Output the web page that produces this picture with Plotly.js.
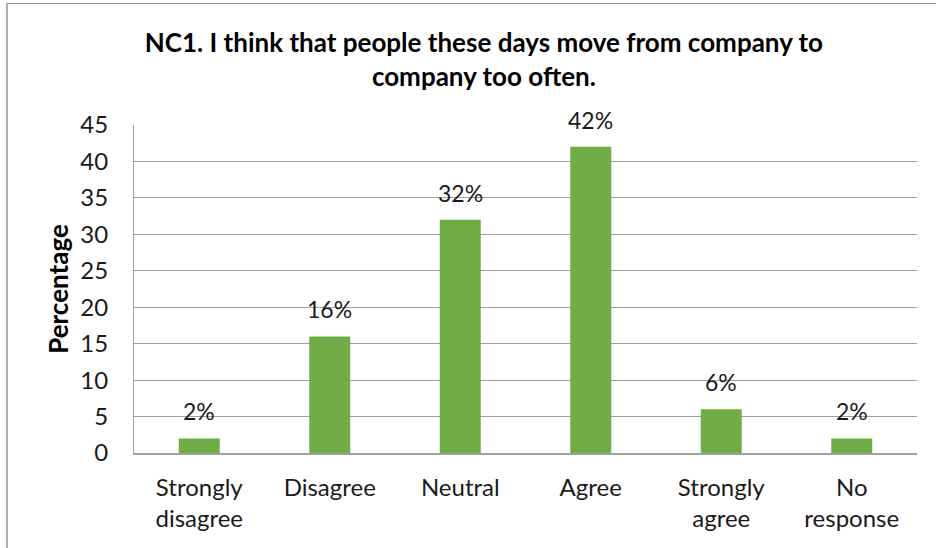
<!DOCTYPE html>
<html>
<head>
<meta charset="utf-8">
<script src="https://cdn.plot.ly/plotly-3.0.1.min.js"></script>
<style>
  html, body { margin: 0; padding: 0; background: #fff; overflow: hidden; }
  #chart { position: absolute; left: 0; top: 0; width: 936px; height: 548px; }
  #frame { position: absolute; left: 6px; top: 3px; width: 1200px; height: 1200px;
           border-left: 2px solid #b0b0b0; border-top: 1px solid #999; pointer-events: none; }
</style>
</head>
<body>
<div id="chart"></div>
<div id="frame"></div>
<script>
// Survey responses for NC1
const categories = ["Strongly<br>disagree", "Disagree", "Neutral", "Agree", "Strongly<br>agree", "No<br>response"];
const percentages = [2, 16, 32, 42, 6, 2];
const yTicks = [0, 5, 10, 15, 20, 25, 30, 35, 40, 45];

const FONT = "Lato, 'Open Sans', sans-serif";
const TEXT = "#1a1a1a";
const GRID = "#a0a0a0";

const bars = {
  type: "bar",
  x: categories,
  y: percentages,
  marker: { color: "#70ad47" },
  hoverinfo: "skip"
};

// value labels sit above each bar, read from the same values
const labels = categories.map((c, i) => ({
  x: c,
  y: percentages[i],
  xref: "x",
  yref: "y",
  text: percentages[i] + "%",
  showarrow: false,
  yanchor: "bottom",
  yshift: 11,
  font: { family: FONT, size: 23, color: TEXT }
}));

const layout = {
  width: 936,
  height: 548,
  paper_bgcolor: "#fff",
  plot_bgcolor: "#fff",
  margin: { l: 134, r: 19, t: 125, b: 95 },
  showlegend: false,
  bargap: 0.686,
  font: { family: FONT, size: 24, color: TEXT },
  title: {
    text: "NC1. I think that people these days move from company to<br>company too often.",
    font: { family: FONT, size: 26, color: "#000", weight: "bold" },
    xref: "container",
    x: 0.517,
    xanchor: "center",
    yref: "container",
    y: 0.905,
    yanchor: "top"
  },
  xaxis: {
    type: "category",
    showgrid: false,
    showline: true,
    linecolor: GRID,
    linewidth: 2,
    ticks: "",
    ticklabelstandoff: 12,
    tickfont: { family: FONT, size: 24, color: TEXT },
    fixedrange: true
  },
  yaxis: {
    range: [0, 45],
    tickvals: yTicks,
    ticktext: yTicks.map(String),
    showgrid: true,
    gridcolor: GRID,
    gridwidth: 1,
    zeroline: false,
    showline: true,
    linecolor: GRID,
    linewidth: 1,
    ticks: "",
    ticklabelstandoff: 20,
    tickfont: { family: FONT, size: 24, color: TEXT },
    title: {
      text: "Percentage",
      font: { family: FONT, size: 26, color: "#000", weight: "bold" },
      standoff: 4
    },
    automargin: false,
    fixedrange: true
  },
  annotations: labels
};

Plotly.newPlot("chart", [bars], layout, { displayModeBar: false, staticPlot: true });
</script>
</body>
</html>
